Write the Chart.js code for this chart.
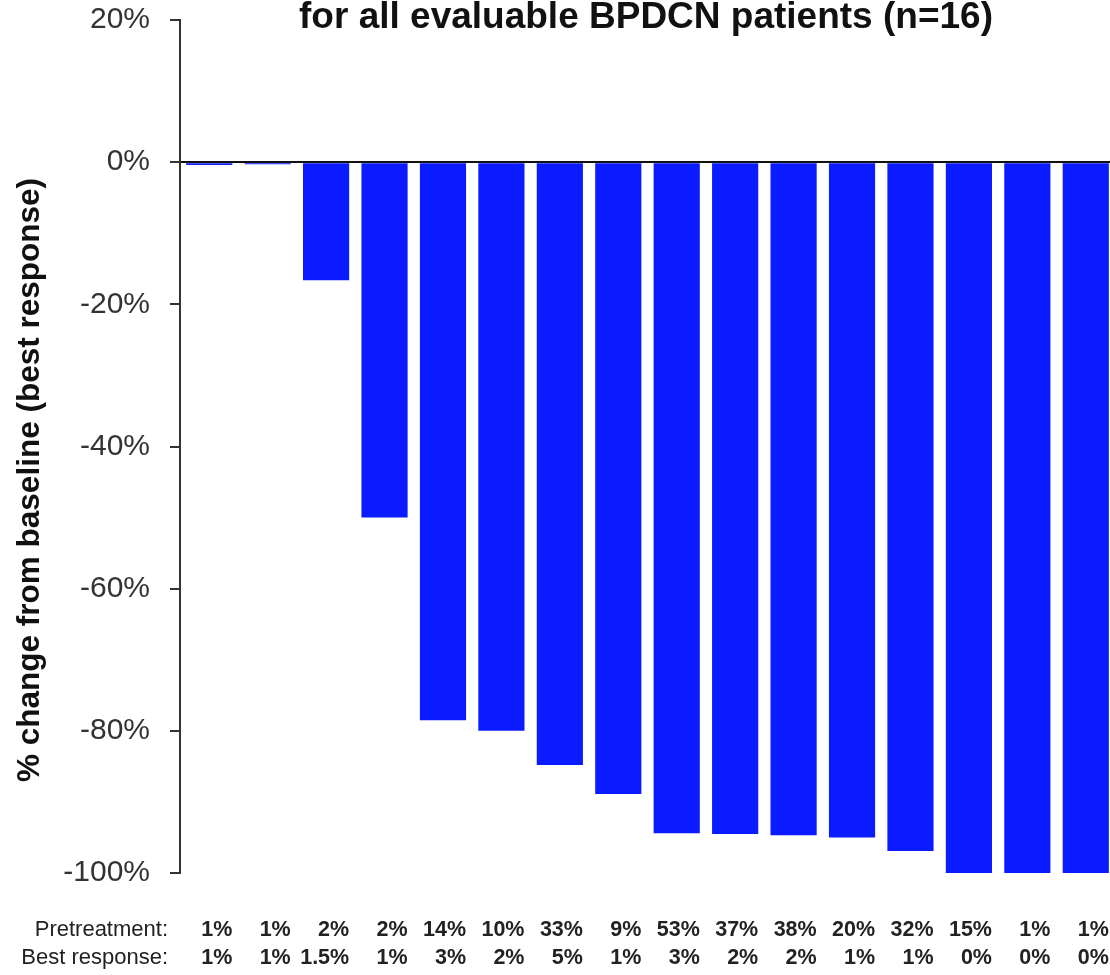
<!DOCTYPE html>
<html>
<head>
<meta charset="utf-8">
<title>Best % change from baseline</title>
<script src="https://cdn.jsdelivr.net/npm/chart.js@4.4.1/dist/chart.umd.min.js"></script>
<style>
  html, body { margin: 0; padding: 0; background: #ffffff; overflow: hidden; }
  #wrap { width: 1110px; height: 975px; overflow: hidden; }
  canvas { display: block; }
</style>
</head>
<body>
<div id="wrap"><canvas id="chart" width="1120" height="975"></canvas></div>
<script>
// Patients, ordered by depth of best response
const patients = ['1', '2', '3', '4', '5', '6', '7', '8', '9', '10', '11', '12', '13', '14', '15', '16'];

// Best % change from baseline in marrow blasts
const bestChange = [-0.4, -0.3, -16.6, -50, -78.5, -80, -84.8, -88.9, -94.4, -94.5, -94.7, -95, -96.9, -100, -100, -100];

// Blast percentages printed beneath each bar
const pretreatment = ['1%', '1%', '2%', '2%', '14%', '10%', '33%', '9%', '53%', '37%', '38%', '20%', '32%', '15%', '1%', '1%'];
const bestResponse = ['1%', '1%', '1.5%', '1%', '3%', '2%', '5%', '1%', '3%', '2%', '2%', '1%', '1%', '0%', '0%', '0%'];

// Y axis range and tick step
const yMin = -100;
const yMax = 20;
const yStep = 20;

const titleText = 'for all evaluable BPDCN patients (n=16)';
const yTitleText = '% change from baseline (best response)';
const rowHeaders = ['Pretreatment:', 'Best response:'];

const FONT = '"Liberation Sans", Arial, Helvetica, sans-serif';

// Title, rotated axis title and the two rows of blast values
const annotations = {
  id: 'annotations',
  afterDraw(chart) {
    const ctx = chart.ctx;
    const area = chart.chartArea;
    ctx.save();

    // title line
    ctx.fillStyle = '#111111';
    ctx.font = 'bold 37px ' + FONT;
    ctx.textAlign = 'center';
    ctx.textBaseline = 'alphabetic';
    ctx.fillText(titleText, 646, 28);

    // y axis title
    ctx.save();
    ctx.translate(30, 480);
    ctx.rotate(-Math.PI / 2);
    ctx.font = 'bold 31.5px ' + FONT;
    ctx.textAlign = 'center';
    ctx.textBaseline = 'middle';
    ctx.fillStyle = '#111111';
    ctx.fillText(yTitleText, 0, 0);
    ctx.restore();

    // rows under the bars
    const rows = [pretreatment, bestResponse];
    const rowY = [930, 958];
    const meta = chart.getDatasetMeta(0);
    rows.forEach((vals, r) => {
      ctx.textBaseline = 'middle';
      ctx.textAlign = 'right';
      ctx.fillStyle = '#222222';
      ctx.font = '22px ' + FONT;
      ctx.fillText(rowHeaders[r], area.left - 12, rowY[r]);
      ctx.font = 'bold 21.5px ' + FONT;
      meta.data.forEach((bar, i) => {
        const right = bar.x + bar.width / 2;
        ctx.fillText(vals[i], right, rowY[r]);
      });
    });
    ctx.restore();
  }
};

new Chart(document.getElementById('chart'), {
  type: 'bar',
  data: {
    labels: patients,
    datasets: [{
      data: bestChange,
      backgroundColor: '#0a1cff',
      borderWidth: 0,
      categoryPercentage: 1.0,
      barPercentage: 0.79
    }]
  },
  options: {
    responsive: false,
    animation: false,
    devicePixelRatio: 1,
    layout: { padding: { top: 20, right: 5, bottom: 102, left: 0 } },
    plugins: {
      legend: { display: false },
      title: { display: false },
      tooltip: { enabled: false }
    },
    scales: {
      x: {
        display: false,
        offset: true
      },
      y: {
        min: yMin,
        max: yMax,
        afterFit(scale) {
          scale.width = 180;
          scale.paddingTop = 0;
          scale.paddingBottom = 0;
        },
        ticks: {
          stepSize: yStep,
          padding: 20,
          color: '#333333',
          font: { family: FONT, size: 30 },
          callback: (v) => v + '%'
        },
        grid: {
          drawOnChartArea: true,
          drawTicks: true,
          tickLength: 10,
          tickColor: '#333333',
          lineWidth: 2,
          color: (c) => (c.tick && c.tick.value === 0 ? '#111111' : 'rgba(0,0,0,0)')
        },
        border: { display: true, color: '#333333', width: 2 }
      }
    }
  },
  plugins: [annotations]
});
</script>
</body>
</html>
